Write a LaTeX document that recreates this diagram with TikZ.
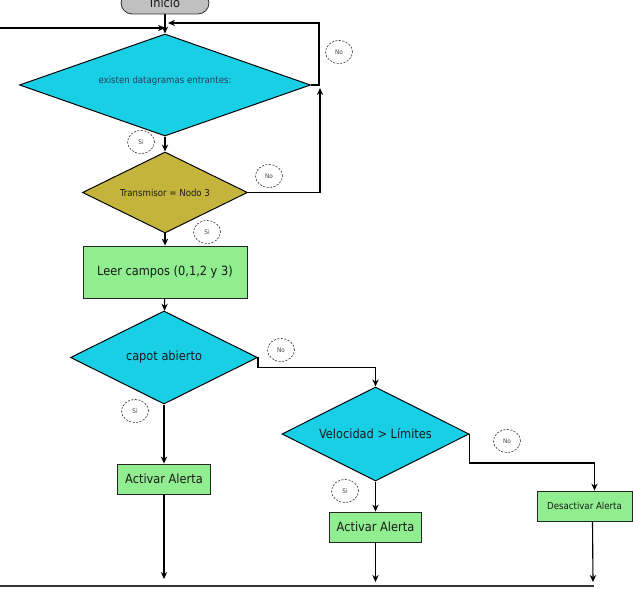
\documentclass[tikz,border=0pt]{standalone}
\usepackage{fontspec}
\setmainfont{DejaVu Sans Condensed}
\usetikzlibrary{arrows.meta,shapes.geometric,calc}
\definecolor{cy}{HTML}{19CFE6}
\definecolor{ol}{HTML}{C4B43C}
\definecolor{lg}{HTML}{90EE90}
\definecolor{gr}{HTML}{C0C0C0}
\definecolor{ink}{HTML}{1A1A1A}
\definecolor{nav}{HTML}{23405E}
\newcommand{\fbig}{\fontsize{9}{11}\selectfont}
\newcommand{\fsmall}{\fontsize{6.8}{8}\selectfont}
\tikzset{
  dec/.style={diamond,aspect=2,draw=black,line width=0.7pt,fill=cy,inner sep=0pt,text=ink,font=\fbig},
  odec/.style={dec,fill=ol,font=\fsmall},
  box/.style={draw=black!85,line width=0.6pt,fill=lg,inner sep=0pt,text=ink,font=\fbig},
  tag/.style={ellipse,draw=black!75,dash pattern=on 1.5pt off 1pt,line width=0.45pt,
    minimum width=0.675cm,minimum height=0.575cm,inner sep=0pt,text=black!75,font=\fontsize{4.5}{5}\selectfont},
  ar/.style={-{Stealth[length=5pt,width=4.5pt]},line width=0.8pt},
}

\begin{document}
\begin{tikzpicture}[x=0.025cm,y=-0.025cm]
\clip (0,0) rectangle (633,589);
% shapes
\node[draw=black!80,line width=0.6pt,fill=gr,rounded corners=8pt,minimum width=2.2cm,minimum height=0.55cm,font=\fbig,text=ink] (ini) at (165,3) {Inicio};
\node[dec,minimum width=7.275cm,minimum height=2.55cm,font=\fsmall,text=nav,text depth=8pt] (dg) at (165,85) {existen datagramas entrantes:};
\node[odec,minimum width=4.125cm,minimum height=2.025cm] (tx) at (165,192.5) {Transmisor = Nodo 3};
\node[box,minimum width=4.1cm,minimum height=1.3cm] (rd) at (165,272) {Leer campos (0,1,2 y 3)};
\node[dec,minimum width=4.675cm,minimum height=2.325cm] (cap) at (164,357.5) {capot abierto};
\node[dec,minimum width=4.675cm,minimum height=2.35cm] (vel) at (375.5,434) {Velocidad > Límites};
\node[box,minimum width=2.325cm,minimum height=0.75cm] (on1) at (164,479) {Activar Alerta};
\node[box,minimum width=2.3cm,minimum height=0.75cm] (on2) at (375.5,527) {Activar Alerta};
\node[box,minimum width=2.375cm,minimum height=0.75cm,font=\fsmall] (off) at (584.5,506) {Desactivar Alerta};
% Si / No marks
\node[tag] (no1) at (339,52) {No};
\node[tag] (si1) at (141,142) {Si};
\node[tag] (no2) at (269,176) {No};
\node[tag] (si2) at (207,232) {Si};
\node[tag] (no3) at (281,350) {No};
\node[tag] (si3) at (135,411) {Si};
\node[tag] (no4) at (507,441) {No};
\node[tag] (si4) at (345,491) {Si};
% loose ends
\coordinate (back) at (0,28);
\coordinate (top) at (168,23);
\coordinate (up) at (320,88);
\coordinate (e1) at (164,579);
\coordinate (e2) at (375.5,582);
\coordinate (e3) at (593,582);
\coordinate (baseL) at (0,586);
\coordinate (baseR) at (594,586);
% connectors
\draw[ar] (ini) -- (dg);
\draw[ar] (back) -- (back -| dg.north);
\draw[ar] (dg.east) -- ++(8,0) |- (top);
\draw[ar] (tx.east) -| (up);
\draw[ar] (dg) -- (tx);
\draw[ar] (tx) -- (rd);
\draw[ar] (rd) -- (cap);
\draw[ar] (cap.east) -- ++(0,10) -| (vel.north);
\draw[ar] (cap) -- (on1);
\draw[ar] (on1) -- (e1);
\draw[ar] (vel) -- (on2);
\draw[ar] (on2) -- (e2);
\draw[ar] (vel.east) -- ++(0,29) -| ([xshift=0.25cm]off.north);
\draw[ar] ([xshift=0.2cm]off.south) -- (e3);
\draw[line width=2pt,draw=black!80] (baseL) -- (baseR);
\end{tikzpicture}
\end{document}
